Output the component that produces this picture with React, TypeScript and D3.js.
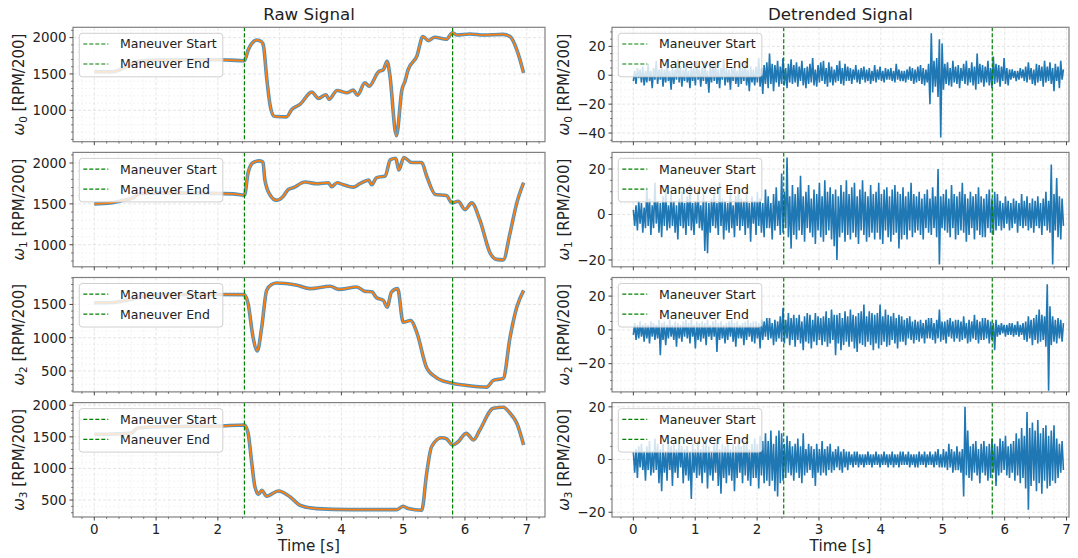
import React from 'react';
import * as d3 from 'd3';

// ---------- data ----------
const maneuverStart = 2.43;
const maneuverEnd = 5.8;
const legendLabels = ['Maneuver Start', 'Maneuver End'];
const xTickLabels = [0, 1, 2, 3, 4, 5, 6, 7];

// raw signals (time [s], value [RPM/200])
const raw0T = [0, 0.3, 0.5, 0.7, 1.0, 1.5, 2.0, 2.2, 2.43, 2.49, 2.55, 2.63, 2.71, 2.74, 2.79, 2.85, 2.91, 2.95, 3.11, 3.2, 3.33, 3.52, 3.63, 3.75, 3.8, 3.93, 4.09, 4.19, 4.26, 4.38, 4.45, 4.6, 4.68, 4.74, 4.78, 4.89, 4.98, 5.03, 5.08, 5.22, 5.32, 5.41, 5.51, 5.7, 5.8, 5.87, 6.08, 6.3, 6.62, 6.73, 6.84, 6.95];
const raw0V = [1530, 1530, 1590, 1670, 1690, 1695, 1695, 1690, 1682, 1830, 1920, 1968, 1940, 1880, 1450, 1050, 920, 914, 910, 1014, 1082, 1250, 1164, 1214, 1150, 1273, 1241, 1277, 1209, 1378, 1332, 1528, 1559, 1673, 1514, 650, 1286, 1400, 1559, 1741, 2014, 1959, 2005, 1977, 2068, 2036, 2050, 2036, 2045, 2014, 1832, 1514];

const raw1T = [0, 0.26, 0.45, 0.63, 0.74, 1.2, 1.8, 2.25, 2.43, 2.49, 2.57, 2.68, 2.73, 2.76, 2.84, 2.95, 3.06, 3.14, 3.22, 3.41, 3.6, 3.79, 3.84, 3.93, 4.03, 4.19, 4.3, 4.44, 4.49, 4.57, 4.71, 4.79, 4.88, 4.93, 5.01, 5.14, 5.3, 5.38, 5.52, 5.7, 5.79, 5.89, 6.0, 6.11, 6.24, 6.41, 6.51, 6.62, 6.73, 6.84, 6.95];
const raw1V = [1500, 1512, 1540, 1574, 1627, 1635, 1630, 1623, 1606, 1883, 2006, 2026, 2010, 1800, 1615, 1544, 1594, 1677, 1698, 1767, 1747, 1759, 1710, 1759, 1735, 1705, 1747, 1791, 1735, 1821, 1841, 2039, 2059, 1915, 2068, 2006, 2006, 1841, 1615, 1602, 1512, 1532, 1430, 1512, 1306, 895, 821, 815, 1142, 1512, 1759];

const raw2T = [0, 0.3, 0.6, 0.9, 1.5, 2.0, 2.43, 2.49, 2.57, 2.64, 2.71, 2.79, 2.87, 2.95, 3.28, 3.49, 3.82, 3.96, 4.25, 4.38, 4.49, 4.57, 4.68, 4.74, 4.81, 4.91, 5.0, 5.12, 5.22, 5.38, 5.54, 5.76, 6.03, 6.35, 6.46, 6.62, 6.73, 6.84, 6.95];
const raw2V = [1526, 1530, 1580, 1640, 1650, 1650, 1647, 1510, 1005, 803, 1156, 1712, 1800, 1823, 1788, 1738, 1773, 1727, 1763, 1697, 1690, 1601, 1561, 1460, 1686, 1738, 1232, 1258, 1081, 550, 399, 323, 283, 258, 359, 389, 1005, 1460, 1712];

const raw3T = [0, 0.3, 0.6, 0.7, 1.0, 1.5, 2.0, 2.43, 2.49, 2.55, 2.6, 2.66, 2.71, 2.79, 2.98, 3.17, 3.33, 3.6, 4.14, 4.9, 5.0, 5.08, 5.3, 5.38, 5.46, 5.62, 5.7, 5.8, 5.89, 6.02, 6.14, 6.24, 6.46, 6.62, 6.73, 6.84, 6.95];
const raw3V = [1540, 1545, 1560, 1640, 1660, 1665, 1670, 1687, 1555, 1079, 708, 592, 656, 560, 644, 549, 418, 365, 349, 349, 402, 365, 338, 921, 1343, 1486, 1470, 1370, 1422, 1555, 1449, 1608, 1952, 1968, 1873, 1714, 1370];

// detrended signals, equally spaced samples over the recording
const detrendDuration = 6.95;
const det0 = [
  -4, 3, -6, 5, -2, 4, -5, 6, -7, 3,
  -5, 8, -4, 3, -9, 5, -3, 10, -6, 4,
  -3, 6, -8, 4, -5, 9, -4, 3, -10, 5,
  -6, 4, -3, 11, -5, 6, -8, 4, -4, 7,
  -5, 3, -9, 6, -4, 5, -7, 10, -3, 4,
  -8, 5, -4, 9, -6, 3, -12, 6, -5, 8,
  -4, 7, -6, 4, -9, 5, -3, 11, -7, 5,
  -5, 4, -10, 6, -4, 8, -6, 3, -8, 10,
  -6, 5, -4, 9, -7, 4, -11, 6, -5, 4,
  -7, 6, -5, 12, -8, 5, -13, 7, -6, 9,
  -9, 15, -6, 8, -11, 7, -5, 10, -8, 6,
  -6, 12, -7, 5, -9, 8, -5, 11, -6, 7,
  -5, 9, -8, 6, -4, 10, -7, 5, -9, 6,
  -6, 8, -5, 12, -7, 4, -8, 7, -5, 9,
  -4, 10, -6, 5, -8, 9, -5, 6, -7, 4,
  -5, 7, -4, 10, -6, 5, -7, 8, -4, 6,
  -4, 5, -6, 4, -3, 7, -5, 4, -6, 5,
  -3, 6, -5, 4, -4, 5, -6, 3, -4, 7,
  -5, 4, -3, 6, -4, 3, -5, 5, -3, 4,
  -3, 5, -4, 3, -5, 8, -3, 4, -4, 3,
  -4, 3, -5, 4, -3, 6, -4, 5, -6, 4,
  -5, 6, -4, 7, -6, 5, -7, 4, -5, 8,
  -20, 29, -12, 10, -8, 12, -15, 25, -43, 22,
  -10, 8, -6, 9, -7, 5, -8, 10, -5, 6,
  -6, 7, -9, 5, -4, 8, -6, 10, -7, 5,
  -5, 9, -7, 6, -10, 15, -6, 8, -5, 7,
  -8, 6, -5, 10, -7, 5, -9, 13, -6, 8,
  -5, 7, -8, 6, -4, 12, -6, 5, -7, 4,
  -3, 4, -2, 3, -4, 3, -3, 5, -2, 4,
  -4, 6, -5, 9, -3, 5, -6, 4, -7, 8,
  -5, 7, -4, 6, -8, 10, -5, 6, -4, 9,
  -6, 5, -11, 8, -4, 6, -9, 10, -3, 4,
];
const det1 = [
  2, -5, 4, -7, 6, -4, 5, -8, 3, -6,
  12, -5, 7, -9, 4, -6, 14, -4, 6, -8,
  5, -10, 8, -5, 11, -7, 4, -6, 9, -5,
  6, -8, 4, -11, 7, -5, 10, -6, 5, -9,
  8, -5, 13, -7, 5, -9, 6, -4, 11, -6,
  4, -7, 9, -16, 6, -17, 5, -8, 7, -5,
  10, -6, 5, -9, 14, -5, 7, -11, 6, -7,
  5, -8, 11, -6, 4, -10, 8, -5, 12, -7,
  7, -5, 6, -9, 9, -6, 5, -12, 8, -4,
  6, -9, 10, -5, 7, -8, 5, -10, 11, -6,
  8, -6, 5, -11, 9, -7, 12, -5, 6, -9,
  18, -8, 10, -6, 25, -10, 8, -15, 13, -9,
  9, -11, 12, -7, 17, -9, 8, -12, 10, -6,
  13, -8, 7, -10, 11, -13, 9, -7, 14, -10,
  8, -12, 15, -9, 10, -7, 12, -11, 9, -14,
  11, -20, 8, -10, 13, -8, 10, -12, 15, -9,
  9, -11, 12, -8, 14, -10, 8, -13, 11, -7,
  15, -9, 10, -12, 8, -10, 13, -8, 9, -11,
  10, -8, 14, -11, 9, -13, 11, -7, 12, -10,
  8, -12, 11, -9, 13, -8, 10, -15, 9, -11,
  12, -9, 8, -11, 10, -7, 14, -10, 9, -8,
  8, -7, 10, -9, 7, -11, 9, -6, 11, -8,
  7, -9, 12, -6, 8, -10, 20, -22, 8, -6,
  9, -7, 11, -8, 7, -10, 13, -6, 9, -11,
  8, -9, 10, -7, 14, -8, 9, -12, 7, -9,
  10, -6, 8, -11, 9, -7, 12, -9, 8, -10,
  7, -10, 9, -6, 11, -8, 7, -9, 10, -7,
  9, -5, 6, -7, 5, -6, 8, -4, 6, -7,
  5, -6, 7, -4, 6, -8, 5, -5, 9, -6,
  6, -5, 8, -7, 5, -6, 7, -8, 6, -5,
  8, -6, 5, -9, 7, -5, 10, -7, 6, -8,
  22, -22, 9, -7, 16, -10, 8, -11, 7, -5,
];
const det2 = [
  -3, 4, -6, 3, -5, 5, -4, 3, -7, 4,
  -5, 3, -8, 5, -4, 4, -6, 3, -5, 6,
  -15, 4, -6, 5, -9, 3, -5, 6, -4, 3,
  -6, 5, -10, 4, -5, 3, -7, 5, -4, 6,
  -5, 4, -8, 6, -4, 3, -11, 5, -6, 4,
  -7, 5, -5, 4, -9, 6, -4, 3, -6, 5,
  -4, 6, -13, 4, -6, 5, -5, 3, -8, 4,
  -6, 5, -4, 6, -7, 4, -10, 5, -5, 3,
  -5, 4, -9, 5, -6, 6, -4, 4, -7, 5,
  -8, 5, -5, 4, -11, 6, -6, 5, -4, 7,
  -6, 7, -5, 4, -9, 6, -7, 5, -5, 8,
  -7, 13, -8, 6, -5, 10, -9, 7, -6, 9,
  -10, 7, -6, 9, -8, 5, -12, 8, -7, 10,
  -8, 9, -11, 6, -7, 10, -9, 8, -6, 7,
  -9, 8, -7, 11, -10, 7, -8, 12, -6, 9,
  -15, 9, -8, 10, -12, 7, -9, 11, -7, 8,
  -10, 12, -7, 9, -11, 8, -13, 10, -8, 11,
  -9, 15, -10, 8, -7, 11, -9, 10, -12, 9,
  -8, 10, -11, 15, -9, 8, -7, 12, -10, 9,
  -9, 8, -6, 10, -8, 7, -11, 9, -7, 8,
  -7, 6, -9, 7, -5, 8, -6, 5, -8, 6,
  -6, 5, -7, 6, -5, 4, -8, 6, -5, 7,
  -5, 7, -6, 4, -8, 6, -5, 12, -7, 5,
  -6, 5, -8, 6, -4, 7, -5, 5, -7, 6,
  -5, 6, -7, 5, -6, 8, -5, 4, -8, 6,
  -7, 5, -5, 9, -6, 6, -8, 5, -6, 7,
  -6, 7, -5, 6, -8, 5, -6, 4, -12, 6,
  -4, 3, -3, 4, -2, 3, -4, 3, -3, 4,
  -3, 4, -4, 3, -3, 5, -4, 3, -3, 4,
  -6, 5, -7, 8, -5, 6, -9, 7, -6, 9,
  -8, 12, -7, 9, -6, 8, -10, 27, -36, 14,
  -9, 8, -7, 6, -8, 7, -5, 6, -7, 4,
];
const det3 = [
  3, -5, 4, -7, 5, -3, 6, -4, 3, -8,
  5, -4, 7, -6, 3, -5, 8, -4, 6, -9,
  4, -12, 6, -5, 3, -8, 7, -4, 5, -10,
  6, -5, 4, -7, 8, -3, 5, -9, 4, -6,
  5, -8, 3, -15, 6, -5, 4, -7, 7, -6,
  4, -9, 6, -5, 7, -11, 5, -6, 3, -8,
  6, -5, 8, -10, 4, -13, 6, -7, 5, -9,
  7, -6, 4, -8, 6, -12, 5, -7, 8, -5,
  5, -9, 7, -6, 9, -8, 4, -10, 6, -7,
  8, -7, 6, -11, 9, -6, 7, -9, 10, -8,
  7, -10, 11, -8, 6, -12, 9, -14, 11, -9,
  10, -8, 6, -7, 9, -5, 7, -6, 5, -8,
  6, -5, 8, -7, 5, -9, 10, -6, 4, -5,
  6, -4, 5, -7, 4, -10, 6, -5, 4, -6,
  7, -5, 4, -6, 5, -4, 6, -5, 3, -4,
  4, -3, 5, -4, 3, -5, 4, -3, 3, -4,
  3, -2, 2, -3, 3, -2, 3, -3, 2, -2,
  2, -3, 2, -2, 3, -2, 2, -3, 2, -2,
  3, -2, 2, -3, 2, -2, 3, -2, 2, -3,
  2, -2, 3, -3, 2, -2, 2, -3, 3, -2,
  3, -2, 2, -2, 3, -3, 2, -2, 2, -3,
  2, -3, 3, -2, 2, -2, 3, -3, 2, -2,
  3, -2, 2, -3, 3, -2, 4, -3, 2, -3,
  4, -3, 3, -4, 6, -3, 4, -5, 3, -4,
  5, -4, 3, -5, 4, -14, 20, -6, 11, -7,
  5, -8, 6, -5, 7, -6, 4, -9, 6, -5,
  7, -6, 5, -8, 6, -7, 8, -5, 6, -10,
  5, -6, 8, -5, 7, -4, 9, -6, 5, -7,
  6, -5, 7, -8, 10, -6, 8, -9, 12, -7,
  9, -11, 18, -19, 12, -10, 14, -8, 11, -12,
  15, -9, 10, -13, 12, -8, 13, -11, 9, -10,
  11, -8, 13, -9, 8, -7, 6, -5, 7, -4,
];

const rawT = [raw0T, raw1T, raw2T, raw3T];
const rawV = [raw0V, raw1V, raw2V, raw3V];
const detV = [det0, det1, det2, det3];

// axis limits
const rawYDomains: [number, number][] = [[568, 2142], [730, 2130], [186, 1905], [232, 2041]];
const detYDomains: [number, number][] = [[-46, 33.2], [-23, 27.3], [-36.7, 31], [-21.8, 21.6]];

// ---------- layout ----------
const W = 1078, H = 558;
const ROW_TOP = 27.3, ROW_STEP = 125.1, ROW_H = 114.4;
const LEFT = { x0: 73, x1: 545, dom: [-0.345, 7.296] as [number, number] };
const RIGHT = { x0: 612, x1: 1069, dom: [-0.345, 7.04] as [number, number] };
const FONT = 'DejaVu Sans, Verdana, sans-serif';
const BLUE = '#1f77b4', ORANGE = '#ff7f0e', GREEN = '#008000';

function rangeStep(lo: number, hi: number, step: number) {
  const out: number[] = [];
  const start = Math.ceil(lo / step - 1e-9);
  for (let k = start; k * step <= hi + 1e-9; k++) out.push(+(k * step).toFixed(6));
  return out;
}
const fmt = (v: number) => (v < 0 ? '\u2212' + Math.abs(v) : String(v));

type PanelProps = {
  id: string; x0: number; x1: number; xdom: [number, number];
  top: number; h: number; ydom: [number, number];
  yMajor: number; yMinor: number; showX: boolean;
  kind: 'raw' | 'det'; t: number[]; v: number[]; sub: string; ylabX: number;
};

function Panel(p: PanelProps) {
  const xs = d3.scaleLinear().domain(p.xdom).range([p.x0, p.x1]);
  const ys = d3.scaleLinear().domain(p.ydom).range([p.top + p.h, p.top]);
  const bottom = p.top + p.h;
  const xMaj = xTickLabels.filter(v => v >= p.xdom[0] && v <= p.xdom[1]);
  const xMin = rangeStep(p.xdom[0], p.xdom[1], 0.2).filter(v => Math.abs(v - Math.round(v)) > 1e-6);
  const yMaj = rangeStep(p.ydom[0], p.ydom[1], p.yMajor);
  const yMin = rangeStep(p.ydom[0], p.ydom[1], p.yMinor).filter(v => Math.abs(v / p.yMajor - Math.round(v / p.yMajor)) > 1e-6);
  const pts: [number, number][] = p.t.map((t, i) => [t, p.v[i]]);
  const line = d3.line<[number, number]>().x(d => xs(d[0])).y(d => ys(d[1]));
  if (p.kind === 'raw') line.curve(d3.curveMonotoneX);
  const path = line(pts) || '';
  const lx = p.x0 + 6.3, ly = p.top + 6;
  return (
    <g>
      <defs>
        <clipPath id={p.id}>
          <rect x={p.x0} y={p.top} width={p.x1 - p.x0} height={p.h} />
        </clipPath>
      </defs>
      <rect x={p.x0} y={p.top} width={p.x1 - p.x0} height={p.h} fill="#fff" />
      {/* minor grid */}
      <g stroke="#eeeeee" strokeWidth={0.7} strokeDasharray="2,2">
        {xMin.map(v => <line key={'gx' + v} x1={xs(v)} x2={xs(v)} y1={p.top} y2={bottom} />)}
        {yMin.map(v => <line key={'gy' + v} x1={p.x0} x2={p.x1} y1={ys(v)} y2={ys(v)} />)}
      </g>
      {/* major grid */}
      <g stroke="#dedede" strokeWidth={0.8} strokeDasharray="3,2">
        {xMaj.map(v => <line key={'Gx' + v} x1={xs(v)} x2={xs(v)} y1={p.top} y2={bottom} />)}
        {yMaj.map(v => <line key={'Gy' + v} x1={p.x0} x2={p.x1} y1={ys(v)} y2={ys(v)} />)}
      </g>
      <g clipPath={`url(#${p.id})`}>
        {p.kind === 'raw' ? (
          <>
            <path d={path} fill="none" stroke={BLUE} strokeOpacity={0.8} strokeWidth={3.6} strokeLinejoin="round" />
            <path d={path} fill="none" stroke={ORANGE} strokeWidth={1.7} strokeLinejoin="round" />
          </>
        ) : (
          <path d={path} fill="none" stroke={BLUE} strokeWidth={1.6} strokeLinejoin="miter" strokeMiterlimit={2} />
        )}
        {[maneuverStart, maneuverEnd].map(t => (
          <line key={'v' + t} x1={xs(t)} x2={xs(t)} y1={p.top} y2={bottom} stroke={GREEN} strokeWidth={1.2} strokeDasharray="4,2" />
        ))}
      </g>
      {/* legend */}
      <g>
        <rect x={lx} y={ly} width={143.5} height={43.5} rx={3} fill="#fff" fillOpacity={0.8} stroke="#d0d0d0" strokeWidth={1} />
        {legendLabels.map((lab, i) => (
          <g key={lab}>
            <line x1={lx + 4} x2={lx + 29} y1={ly + 10.7 + i * 20} y2={ly + 10.7 + i * 20} stroke={GREEN} strokeWidth={1.2} strokeDasharray="4,2" />
            <text x={lx + 40.7} y={ly + 10.7 + i * 20 + 4.4} fontSize={12.5} fontFamily={FONT} fill="#222">{lab}</text>
          </g>
        ))}
      </g>
      {/* spines */}
      <rect x={p.x0} y={p.top} width={p.x1 - p.x0} height={p.h} fill="none" stroke="#808080" strokeWidth={1.2} />
      {/* ticks */}
      <g stroke="#333" strokeWidth={0.9}>
        {xMaj.map(v => <line key={'tx' + v} x1={xs(v)} x2={xs(v)} y1={bottom} y2={bottom + 3.5} />)}
        {xMin.map(v => <line key={'mx' + v} x1={xs(v)} x2={xs(v)} y1={bottom} y2={bottom + 2} strokeWidth={0.6} />)}
        {yMaj.map(v => <line key={'ty' + v} x1={p.x0 - 3.5} x2={p.x0} y1={ys(v)} y2={ys(v)} />)}
        {yMin.map(v => <line key={'my' + v} x1={p.x0 - 2} x2={p.x0} y1={ys(v)} y2={ys(v)} strokeWidth={0.6} />)}
      </g>
      {p.showX && xMaj.map(v => (
        <text key={'lx' + v} x={xs(v)} y={bottom + 17} textAnchor="middle" fontSize={13.4} fontFamily={FONT} fill="#222">{v}</text>
      ))}
      {yMaj.map(v => (
        <text key={'ly' + v} x={p.x0 - 6.5} y={ys(v) + 4.8} textAnchor="end" fontSize={13.4} fontFamily={FONT} fill="#222">{fmt(v)}</text>
      ))}
      <text transform={`translate(${p.ylabX},${p.top + p.h / 2}) rotate(-90)`} textAnchor="middle" fontSize={15} fontFamily={FONT} fill="#222">
        <tspan fontStyle="italic">ω</tspan>
        <tspan fontSize={10.5} dy={3}>{p.sub}</tspan>
        <tspan dy={-3}> [RPM/200]</tspan>
      </text>
      {p.showX && (
        <text x={(p.x0 + p.x1) / 2} y={551} textAnchor="middle" fontSize={15.2} fontFamily={FONT} fill="#222">Time [s]</text>
      )}
    </g>
  );
}

export default function App() {
  const rows = [0, 1, 2, 3];
  return (
    <svg width={W} height={H} style={{ position: 'absolute', left: 0, top: 0, background: '#fff' }}>
      <rect x={0} y={0} width={W} height={H} fill="#fff" />
      <text x={(LEFT.x0 + LEFT.x1) / 2} y={20} textAnchor="middle" fontSize={16.7} fontFamily={FONT} fill="#222">Raw Signal</text>
      <text x={(RIGHT.x0 + RIGHT.x1) / 2} y={20} textAnchor="middle" fontSize={16.7} fontFamily={FONT} fill="#222">Detrended Signal</text>
      {rows.map(r => {
        const top = ROW_TOP + r * ROW_STEP;
        const n = detV[r].length;
        const detT = detV[r].map((_, i) => (i * detrendDuration) / (n - 1));
        return (
          <g key={r}>
            <Panel id={`cl${r}`} x0={LEFT.x0} x1={LEFT.x1} xdom={LEFT.dom} top={top} h={ROW_H}
              ydom={rawYDomains[r]} yMajor={500} yMinor={100} showX={r === 3}
              kind="raw" t={rawT[r]} v={rawV[r]} sub={String(r)} ylabX={24} />
            <Panel id={`cr${r}`} x0={RIGHT.x0} x1={RIGHT.x1} xdom={RIGHT.dom} top={top} h={ROW_H}
              ydom={detYDomains[r]} yMajor={20} yMinor={5} showX={r === 3}
              kind="det" t={detT} v={detV[r]} sub={String(r)} ylabX={569} />
          </g>
        );
      })}
    </svg>
  );
}
